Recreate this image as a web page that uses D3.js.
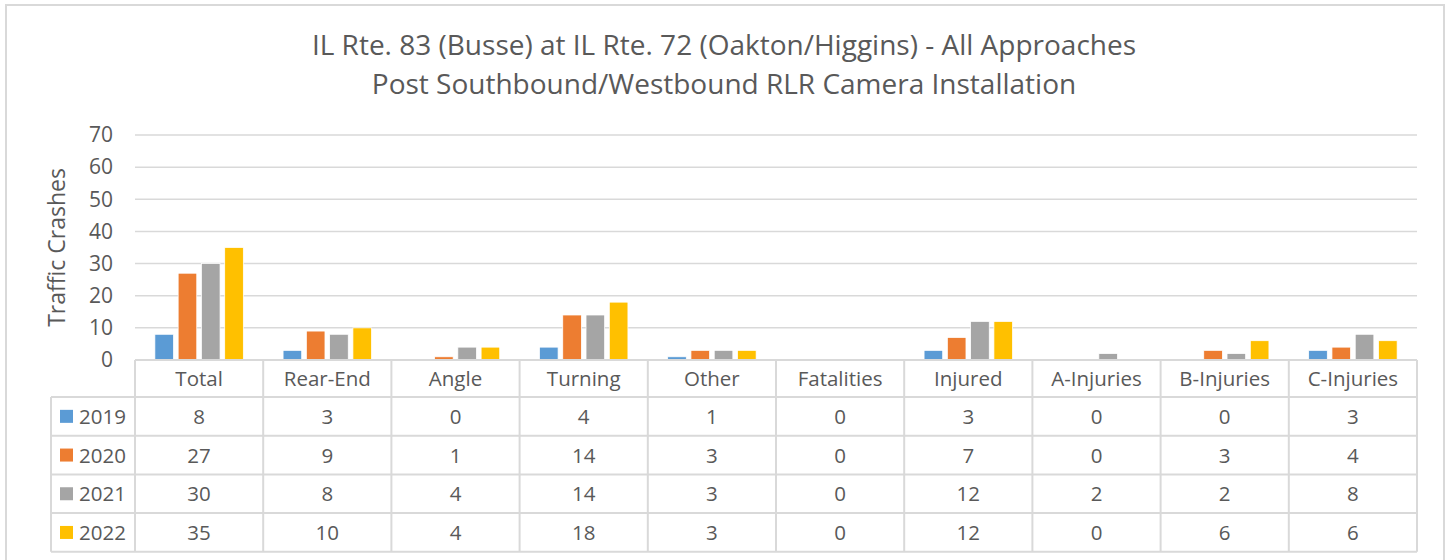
<!DOCTYPE html>
<html>
<head>
<meta charset="utf-8">
<script src="https://cdn.jsdelivr.net/npm/d3@7"></script>
<style>
    body { margin: 0; background: #fff; }
    svg text { font-family: "Open Sans", "Noto Sans", sans-serif; fill: #595959; }
</style>
</head>
<body>
<svg id="chart" width="1449" height="560"></svg>
<script>
// Data
const categories = ['Total', 'Rear-End', 'Angle', 'Turning', 'Other', 'Fatalities', 'Injured', 'A-Injuries', 'B-Injuries', 'C-Injuries'];
const years = ['2019', '2020', '2021', '2022'];
const values2019 = [8, 3, 0, 4, 1, 0, 3, 0, 0, 3];
const values2020 = [27, 9, 1, 14, 3, 0, 7, 0, 3, 4];
const values2021 = [30, 8, 4, 14, 3, 0, 12, 2, 2, 8];
const values2022 = [35, 10, 4, 18, 3, 0, 12, 0, 6, 6];
const yTicks = [0, 10, 20, 30, 40, 50, 60, 70];
const titleLines = ['IL Rte. 83 (Busse) at IL Rte. 72 (Oakton/Higgins) - All Approaches', 'Post Southbound/Westbound RLR Camera Installation'];

const seriesValues = [values2019, values2020, values2021, values2022];
const colors = ['#5B9BD5', '#ED7D31', '#A5A5A5', '#FFC000'];
const gridColor = '#d9d9d9';
const tableFont = '20.5px';

const svg = d3.select('#chart');

// Outer frame
svg.append('rect')
    .attr('x', 6).attr('y', 5)
    .attr('width', 1438).attr('height', 570)
    .attr('fill', 'none')
    .attr('stroke', gridColor)
    .attr('stroke-width', 2);

// Title
svg.append('g').selectAll('text')
    .data(titleLines)
    .enter()
    .append('text')
    .attr('x', 724)
    .attr('y', (d, i) => 55 + i * 38.5)
    .attr('text-anchor', 'middle')
    .attr('font-size', '28px')
    .text(d => d);

// Scales
const plotLeft = 135, plotRight = 1417, plotTop = 135, plotBottom = 360;
const x = d3.scaleBand()
    .domain(categories)
    .range([plotLeft, plotRight])
    .paddingInner(0.31)
    .paddingOuter(0.155);
const xs = d3.scaleBand()
    .domain(years)
    .range([0, x.bandwidth()])
    .paddingInner(0.2);
const y = d3.scaleLinear().domain([0, 70]).range([plotBottom, plotTop]);

// Gridlines
svg.append('g').selectAll('line')
    .data(yTicks.filter(t => t > 0))
    .enter()
    .append('line')
    .attr('x1', plotLeft).attr('x2', plotRight)
    .attr('y1', d => y(d)).attr('y2', d => y(d))
    .attr('stroke', gridColor)
    .attr('stroke-width', 1.5);

// Y axis labels
const yAxis = svg.append('g')
    .attr('transform', `translate(${plotLeft - 22},0)`)
    .call(d3.axisLeft(y).tickValues(yTicks).tickSize(0).tickPadding(0));
yAxis.select('.domain').remove();
yAxis.selectAll('text')
    .attr('font-size', '21px')
    .style('font-family', '"Open Sans", "Noto Sans", sans-serif')
    .attr('fill', '#595959');

// Y axis title
svg.append('text')
    .attr('transform', `translate(65, ${(plotTop + plotBottom) / 2}) rotate(-90)`)
    .attr('text-anchor', 'middle')
    .attr('font-size', '23px')
    .text('Traffic Crashes');

// Bars
const groups = svg.append('g').selectAll('g')
    .data(categories)
    .enter()
    .append('g')
    .attr('transform', d => `translate(${x(d)},0)`);

groups.selectAll('rect')
    .data((cat, ci) => years.map((yr, si) => ({ yr, si, v: seriesValues[si][ci] })))
    .enter()
    .append('rect')
    .attr('x', d => xs(d.yr))
    .attr('y', d => y(d.v))
    .attr('width', xs.bandwidth())
    .attr('height', d => y(0) - y(d.v))
    .attr('fill', d => colors[d.si])
    .attr('stroke', '#fff')
    .attr('stroke-width', 0.75);

// Data table
const headerBottom = 397;
const rowH = 38.7;
const legendLeft = 51;
const tableBottom = headerBottom + rowH * years.length;
const step = x.step();
const colEdges = d3.range(categories.length + 1).map(i => plotLeft + i * step);

const table = svg.append('g');

// Horizontal lines
table.append('line')
    .attr('x1', plotLeft).attr('x2', plotRight)
    .attr('y1', plotBottom).attr('y2', plotBottom)
    .attr('stroke', gridColor).attr('stroke-width', 2);
table.selectAll('.hline')
    .data(d3.range(years.length + 1))
    .enter()
    .append('line')
    .attr('x1', legendLeft).attr('x2', plotRight)
    .attr('y1', i => headerBottom + i * rowH)
    .attr('y2', i => headerBottom + i * rowH)
    .attr('stroke', gridColor).attr('stroke-width', 2);

// Vertical lines
table.selectAll('.vline')
    .data(colEdges)
    .enter()
    .append('line')
    .attr('x1', d => d).attr('x2', d => d)
    .attr('y1', plotBottom).attr('y2', tableBottom)
    .attr('stroke', gridColor).attr('stroke-width', 2);
table.append('line')
    .attr('x1', legendLeft).attr('x2', legendLeft)
    .attr('y1', headerBottom).attr('y2', tableBottom)
    .attr('stroke', gridColor).attr('stroke-width', 2);

// Header labels
table.selectAll('.head')
    .data(categories)
    .enter()
    .append('text')
    .attr('x', d => x(d) + x.bandwidth() / 2)
    .attr('y', (plotBottom + headerBottom) / 2 + 7.5)
    .attr('text-anchor', 'middle')
    .attr('font-size', tableFont)
    .text(d => d);

// Legend cells and values
years.forEach((yr, si) => {
    const cy = headerBottom + si * rowH + rowH / 2;
    table.append('rect')
        .attr('x', 60).attr('y', cy - 6.5)
        .attr('width', 13).attr('height', 13)
        .attr('fill', colors[si]);
    table.append('text')
        .attr('x', 79).attr('y', cy + 7.5)
        .attr('font-size', tableFont)
        .text(yr);
    table.selectAll(null)
        .data(categories)
        .enter()
        .append('text')
        .attr('x', d => x(d) + x.bandwidth() / 2)
        .attr('y', cy + 7.5)
        .attr('text-anchor', 'middle')
        .attr('font-size', tableFont)
        .text((d, ci) => seriesValues[si][ci]);
});
</script>
</body>
</html>
